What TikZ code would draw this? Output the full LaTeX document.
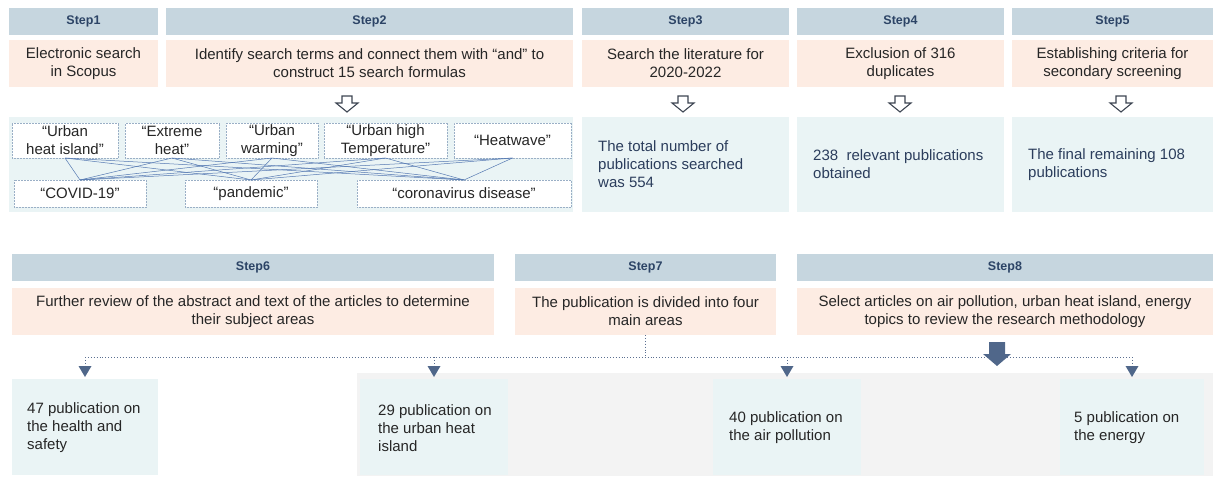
\documentclass[tikz,border=0pt]{standalone}
\usepackage{fontspec}
\setmainfont{Liberation Sans}
\usetikzlibrary{arrows.meta}

\definecolor{hdrfill}{HTML}{C6D6DF}
\definecolor{hdrtext}{HTML}{2C4466}
\definecolor{peachfill}{HTML}{FDECE3}
\definecolor{bluefill}{HTML}{EAF4F5}
\definecolor{greyfill}{HTML}{F3F3F3}
\definecolor{bodytext}{HTML}{262626}
\definecolor{navytext}{HTML}{2B3D5C}
\definecolor{kwborder}{HTML}{9AAFC6}
\definecolor{linkblue}{HTML}{5579B2}
\definecolor{arrowfill}{HTML}{50678A}
\definecolor{hollowline}{HTML}{3D4552}
\definecolor{busline}{HTML}{5B6F90}

\tikzset{
  box/.style={draw=none, inner sep=0pt, outer sep=0pt, anchor=north west},
  hdr/.style={box, fill=hdrfill, text=hdrtext,
    font=\fontsize{12.5}{15}\selectfont\bfseries},
  peach/.style={box, fill=peachfill, text=bodytext, align=center,
    font=\fontsize{15}{18}\selectfont},
  bluebox/.style={box, fill=bluefill},
  kwbox/.style={box, fill=white, draw=kwborder, densely dotted, line width=0.5pt,
    text=bodytext, align=center, font=\fontsize{15}{18}\selectfont},
  bodytxt/.style={inner sep=0pt, anchor=west, align=left, text=bodytext,
    font=\fontsize{15}{18}\selectfont},
  link/.style={draw=linkblue, line width=0.5pt},
  bus/.style={draw=busline, dotted, line width=0.9pt},
  busarrow/.style={bus, -{Triangle[width=13pt,length=11pt,fill=arrowfill,line width=0pt]},
    shorten >=2pt},
  hollowdown/.pic={
    \draw[hollowline, fill=white, line width=1.1pt, line join=miter]
      (-5,0) -- (5,0) -- (5,7) -- (11,7) -- (0,16) -- (-11,7) -- (-5,7) -- cycle;
  }
}

\begin{document}
\begin{tikzpicture}[x=1pt, y=-1pt]
\useasboundingbox (0,0) rectangle (1214,476);

% ---------- upper band: step headers ----------
\node[hdr, minimum width=149pt, minimum height=27pt] (h1) at (9,8)    {Step1};
\node[hdr, minimum width=407pt, minimum height=27pt] (h2) at (166,8)  {Step2};
\node[hdr, minimum width=207pt, minimum height=27pt] (h3) at (582,8)  {Step3};
\node[hdr, minimum width=207pt, minimum height=27pt] (h4) at (797,8)  {Step4};
\node[hdr, minimum width=201pt, minimum height=27pt] (h5) at (1012,8) {Step5};

% ---------- upper band: step descriptions ----------
\node[peach, minimum width=149pt, minimum height=47pt] (p1) at (9,40)
  {Electronic search\\in Scopus};
\node[peach, minimum width=407pt, minimum height=47pt] (p2) at (166,40)
  {Identify search terms and connect them with “and” to\\construct 15 search formulas};
\node[peach, minimum width=207pt, minimum height=47pt] (p3) at (582,40)
  {Search the literature for\\2020-2022};
\node[peach, minimum width=207pt, minimum height=47pt] (p4) at (797,40)
  {Exclusion of 316\\duplicates};
\node[peach, minimum width=201pt, minimum height=47pt] (p5) at (1012,40)
  {Establishing criteria for\\secondary screening};

% ---------- hollow arrows ----------
\pic at (347,96)  {hollowdown};
\pic at (683,96)  {hollowdown};
\pic at (900,96)  {hollowdown};
\pic at (1121,96) {hollowdown};

% ---------- results row ----------
\node[bluebox, minimum width=564pt, minimum height=95pt] (r2) at (9,117) {};
\node[bluebox, minimum width=207pt, minimum height=95pt] (r3) at (582,117) {};
\node[bluebox, minimum width=207pt, minimum height=95pt] (r4) at (797,117) {};
\node[bluebox, minimum width=201pt, minimum height=95pt] (r5) at (1012,117) {};

\node[bodytxt, text=navytext] (t3) at ([xshift=16pt]r3.west)
  {The total number of\\publications searched\\was 554};
\node[bodytxt, text=navytext] (t4) at ([xshift=16pt]r4.west)
  {238\ \ relevant publications\\obtained};
\node[bodytxt, text=navytext] (t5) at ([xshift=16pt]r5.west)
  {The final remaining 108\\publications};

% ---------- search terms ----------
\node[kwbox, minimum width=106pt, minimum height=35pt] (kw1) at (12,123)  {“Urban\\heat island”};
\node[kwbox, minimum width=94pt,  minimum height=35pt] (kw2) at (125,123) {“Extreme\\heat”};
\node[kwbox, minimum width=92pt,  minimum height=35pt] (kw3) at (226,123) {“Urban\\warming”};
\node[kwbox, minimum width=123pt, minimum height=35pt] (kw4) at (324,123) {“Urban high\\Temperature”};
\node[kwbox, minimum width=117pt, minimum height=35pt] (kw5) at (454,123) {“Heatwave”};

\node[kwbox, minimum width=132pt, minimum height=27pt] (kc1) at (14,180)  {“COVID-19”};
\node[kwbox, minimum width=132pt, minimum height=27pt] (kc2) at (185,180) {“pandemic”};
\node[kwbox, minimum width=214pt, minimum height=27pt] (kc3) at (357,180) {“coronavirus disease”};

\foreach \a in {kw1,kw2,kw3,kw4,kw5}
  \foreach \b in {kc1,kc2,kc3}
    \draw[link] (\a.south) -- (\b.north);

% ---------- lower band: step headers and descriptions ----------
\node[hdr, minimum width=482pt, minimum height=27pt] (h6) at (12,254)  {Step6};
\node[hdr, minimum width=261pt, minimum height=27pt] (h7) at (515,254) {Step7};
\node[hdr, minimum width=416pt, minimum height=27pt] (h8) at (797,254) {Step8};

\node[peach, minimum width=482pt, minimum height=47pt] (p6) at (12,288)
  {Further review of the abstract and text of the articles to determine\\their subject areas};
\node[peach, minimum width=261pt, minimum height=47pt] (p7) at (515,288)
  {The publication is divided into four\\main areas};
\node[peach, minimum width=416pt, minimum height=47pt] (p8) at (797,288)
  {Select articles on air pollution, urban heat island, energy\\topics to review the research methodology};

% ---------- subject areas ----------
\fill[greyfill] (357,373) rectangle (1213,476);

\node[bluebox, minimum width=146pt, minimum height=96pt] (b47) at (12,379)   {};
\node[bluebox, minimum width=148pt, minimum height=96pt] (b29) at (360,379)  {};
\node[bluebox, minimum width=148pt, minimum height=96pt] (b40) at (713,379)  {};
\node[bluebox, minimum width=144pt, minimum height=96pt] (b5)  at (1060,379) {};

\node[bodytxt] (t47) at ([xshift=15pt,yshift=-1pt]b47.west) {47 publication on\\the health and\\safety};
\node[bodytxt] (t29) at ([xshift=18pt,yshift=-1pt]b29.west) {29 publication on\\the urban heat\\island};
\node[bodytxt] (t40) at ([xshift=16pt,yshift=-1pt]b40.west) {40 publication on\\the air pollution};
\node[bodytxt] (t5b) at ([xshift=14pt,yshift=-1pt]b5.west)  {5 publication on\\the energy};

% ---------- distribution bus ----------
\coordinate (busjoint) at (p7.south |- 0,357);
\draw[bus] (p7.south) -- (busjoint);
\draw[bus] (b47.north |- busjoint) -- (b5.north |- busjoint);
\foreach \b in {b47,b29,b40,b5}
  \draw[busarrow] (\b.north |- busjoint) -- (\b.north);

% ---------- solid arrow below step 8 ----------
\coordinate (bigarrow) at (997,342);
\fill[arrowfill] (bigarrow) ++(-8,0) -- ++(16,0) -- ++(0,12) -- ++(6,0)
  -- ++(-14,12) -- ++(-14,-12) -- ++(6,0) -- cycle;
\end{tikzpicture}
\end{document}
